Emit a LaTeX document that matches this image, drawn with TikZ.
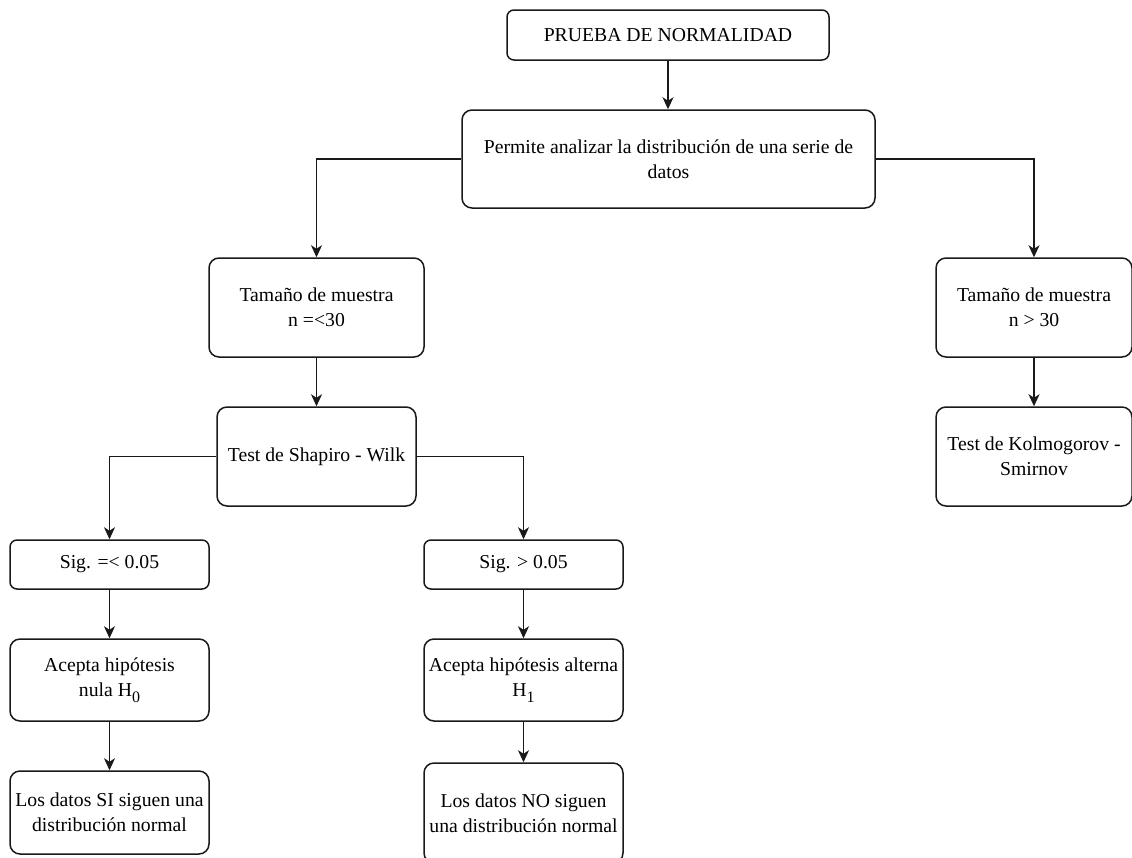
\documentclass[tikz,border=0pt]{standalone}
\usepackage{fontspec}
\setmainfont{Liberation Serif}
\usetikzlibrary{arrows.meta}
\newcommand{\lowsub}[1]{\raisebox{-6pt}{\fontsize{16}{16}\selectfont #1}}
\begin{document}
\begin{tikzpicture}[x=1pt,y=-1pt,
  box/.style={draw=black!90, line width=1.5pt, rounded corners=10pt, fill=white,
    align=center, inner sep=0pt, font=\fontsize{19.7}{25}\selectfont},
  slim/.style={box, rounded corners=7pt},
  arr/.style={draw=black!90, line width=1.5pt, -{Stealth[length=12pt,width=11pt,inset=3.5pt]}}]
\clip (0,0) rectangle (1132,857);
\fill[white] (0,0) rectangle (1132,857);

% top of the chart
\node[slim, minimum width=322pt, minimum height=50pt] (title) at (668,35) {PRUEBA DE NORMALIDAD};
\node[box, minimum width=413pt, minimum height=98pt] (desc) at (668.5,159)
  {Permite analizar la distribución de una serie de\\datos};

% sample size branches
\node[box, minimum width=215pt, minimum height=99pt] (small) at (316.5,307.5)
  {Tamaño de muestra\\n =<30};
\node[box, minimum width=196pt, minimum height=99pt] (large) at (1034,307.5)
  {Tamaño de muestra\\n > 30};

% tests
\node[box, minimum width=199pt, minimum height=99pt] (shapiro) at (316.5,456.5)
  {Test de Shapiro - Wilk};
\node[box, minimum width=196pt, minimum height=99pt] (kolmo) at (1034,456.5)
  {Test de Kolmogorov -\\Smirnov};

% significance
\node[slim, minimum width=199pt, minimum height=49pt] (sig1) at (109.5,564.5) {Sig. =< 0.05};
\node[slim, minimum width=199pt, minimum height=49pt] (sig2) at (523.5,564.5) {Sig. > 0.05};

% hypotheses
\node[box, minimum width=199pt, minimum height=82pt] (acc1) at (109.5,680)
  {Acepta hipótesis\\nula H\lowsub{0}};
\node[box, minimum width=199pt, minimum height=82pt] (acc2) at (523.5,680)
  {Acepta hipótesis alterna\\H\lowsub{1}};

% conclusions
\node[box, minimum width=199pt, minimum height=83pt] (los1) at (109.5,812.5)
  {Los datos SI siguen una\\distribución normal};
\node[box, minimum width=199pt, minimum height=100pt] (los2) at (523.5,813)
  {Los datos NO siguen\\una distribución normal};

% connectors
\draw[arr] (title.south) -- (title.south |- desc.north);
\draw[arr] (desc.west) -| (small.north);
\draw[arr] (desc.east) -| (large.north);
\draw[arr] (small) -- (shapiro);
\draw[arr] (large) -- (kolmo);
\draw[arr] (shapiro.west) -| (sig1.north);
\draw[arr] (shapiro.east) -| (sig2.north);
\draw[arr] (sig1) -- (acc1);
\draw[arr] (acc1) -- (los1);
\draw[arr] (sig2) -- (acc2);
\draw[arr] (acc2) -- (los2);
\end{tikzpicture}
\end{document}
